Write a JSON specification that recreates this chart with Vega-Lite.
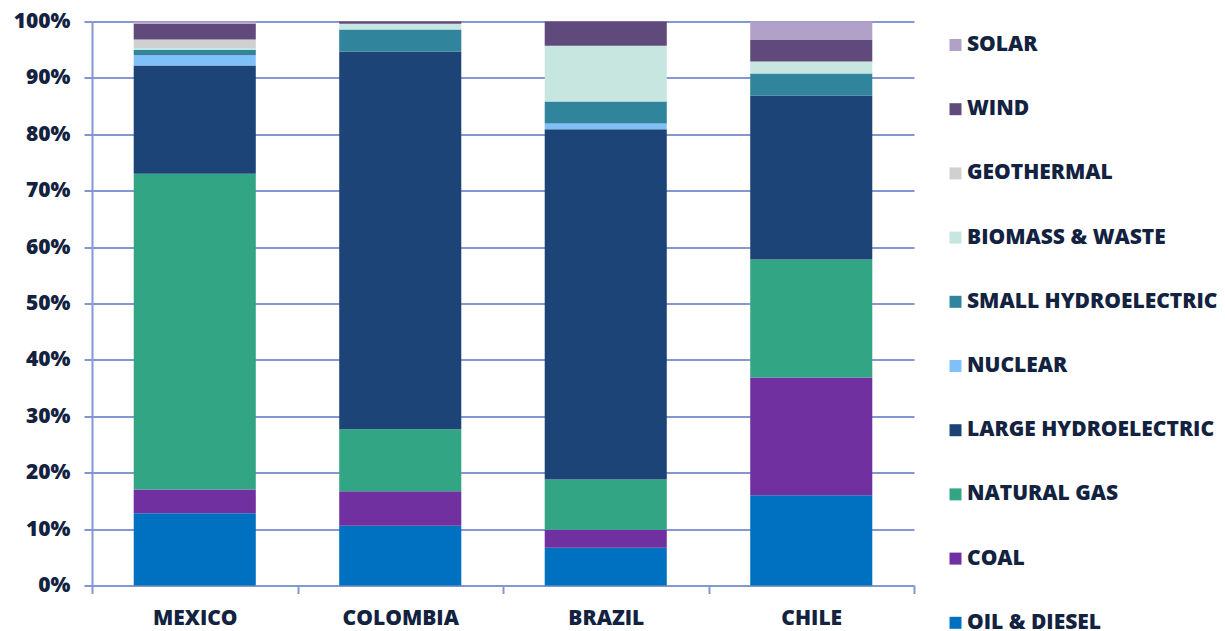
{
  "$schema": "https://vega.github.io/schema/vega-lite/v6.json",
  "autosize": {"type": "none"},
  "width": 822,
  "height": 564,
  "padding": {"left": 92, "top": 21.5, "right": 311, "bottom": 45.5},
  "background": "white",
  "config": {
    "font": "Open Sans",
    "view": {"stroke": null},
    "axis": {
      "labelFont": "Open Sans",
      "labelFontWeight": 800,
      "labelFontSize": 21,
      "labelColor": "#12223f",
      "domainColor": "#8497d1",
      "domainWidth": 2,
      "tickColor": "#8497d1",
      "tickWidth": 2,
      "gridColor": "#8497d1",
      "gridWidth": 2,
      "gridOpacity": 1
    },
    "legend": {
      "labelFont": "Open Sans",
      "labelFontWeight": 800,
      "labelFontSize": 21,
      "labelColor": "#12223f",
      "labelLimit": 400,
      "padding": 0
    }
  },
  "data": {
    "values": [
      {"country": "MEXICO", "source": "OIL & DIESEL", "layer": 1, "share": 12.8},
      {"country": "MEXICO", "source": "COAL", "layer": 2, "share": 4.2},
      {"country": "MEXICO", "source": "NATURAL GAS", "layer": 3, "share": 56.0},
      {"country": "MEXICO", "source": "LARGE HYDROELECTRIC", "layer": 4, "share": 19.2},
      {"country": "MEXICO", "source": "NUCLEAR", "layer": 5, "share": 1.8},
      {"country": "MEXICO", "source": "SMALL HYDROELECTRIC", "layer": 6, "share": 1.0},
      {"country": "MEXICO", "source": "BIOMASS & WASTE", "layer": 7, "share": 0.3},
      {"country": "MEXICO", "source": "GEOTHERMAL", "layer": 8, "share": 1.5},
      {"country": "MEXICO", "source": "WIND", "layer": 9, "share": 2.8},
      {"country": "MEXICO", "source": "SOLAR", "layer": 10, "share": 0.4},

      {"country": "COLOMBIA", "source": "OIL & DIESEL", "layer": 1, "share": 10.6},
      {"country": "COLOMBIA", "source": "COAL", "layer": 2, "share": 6.1},
      {"country": "COLOMBIA", "source": "NATURAL GAS", "layer": 3, "share": 11.0},
      {"country": "COLOMBIA", "source": "LARGE HYDROELECTRIC", "layer": 4, "share": 67.0},
      {"country": "COLOMBIA", "source": "SMALL HYDROELECTRIC", "layer": 6, "share": 3.9},
      {"country": "COLOMBIA", "source": "BIOMASS & WASTE", "layer": 7, "share": 1.0},
      {"country": "COLOMBIA", "source": "WIND", "layer": 9, "share": 0.4},

      {"country": "BRAZIL", "source": "OIL & DIESEL", "layer": 1, "share": 6.7},
      {"country": "BRAZIL", "source": "COAL", "layer": 2, "share": 3.2},
      {"country": "BRAZIL", "source": "NATURAL GAS", "layer": 3, "share": 8.9},
      {"country": "BRAZIL", "source": "LARGE HYDROELECTRIC", "layer": 4, "share": 62.1},
      {"country": "BRAZIL", "source": "NUCLEAR", "layer": 5, "share": 1.0},
      {"country": "BRAZIL", "source": "SMALL HYDROELECTRIC", "layer": 6, "share": 3.9},
      {"country": "BRAZIL", "source": "BIOMASS & WASTE", "layer": 7, "share": 9.9},
      {"country": "BRAZIL", "source": "WIND", "layer": 9, "share": 4.3},

      {"country": "CHILE", "source": "OIL & DIESEL", "layer": 1, "share": 16.0},
      {"country": "CHILE", "source": "COAL", "layer": 2, "share": 20.9},
      {"country": "CHILE", "source": "NATURAL GAS", "layer": 3, "share": 20.9},
      {"country": "CHILE", "source": "LARGE HYDROELECTRIC", "layer": 4, "share": 29.1},
      {"country": "CHILE", "source": "SMALL HYDROELECTRIC", "layer": 6, "share": 3.9},
      {"country": "CHILE", "source": "BIOMASS & WASTE", "layer": 7, "share": 2.1},
      {"country": "CHILE", "source": "WIND", "layer": 9, "share": 3.9},
      {"country": "CHILE", "source": "SOLAR", "layer": 10, "share": 3.2}
    ]
  },
  "mark": {"type": "bar", "width": {"band": 0.594}},
  "encoding": {
    "x": {
      "field": "country",
      "type": "nominal",
      "sort": ["MEXICO", "COLOMBIA", "BRAZIL", "CHILE"],
      "scale": {"paddingInner": 0, "paddingOuter": 0},
      "axis": {
        "title": null,
        "labelAngle": 0,
        "tickBand": "extent",
        "tickSize": 8,
        "labelPadding": 14,
        "grid": false
      }
    },
    "y": {
      "field": "share",
      "type": "quantitative",
      "stack": "zero",
      "scale": {"domain": [0, 100], "nice": false},
      "axis": {
        "title": null,
        "values": [0, 10, 20, 30, 40, 50, 60, 70, 80, 90, 100],
        "labelExpr": "datum.value + '%'",
        "tickSize": 8,
        "labelPadding": 14,
        "grid": true
      }
    },
    "color": {
      "field": "source",
      "type": "nominal",
      "scale": {
        "domain": ["SOLAR", "WIND", "GEOTHERMAL", "BIOMASS & WASTE", "SMALL HYDROELECTRIC", "NUCLEAR", "LARGE HYDROELECTRIC", "NATURAL GAS", "COAL", "OIL & DIESEL"],
        "range": ["#b1a0c7", "#604a7b", "#cfd0d0", "#c6e6df", "#30849c", "#80c0f8", "#1d4477", "#32a684", "#7030a0", "#0070c0"]
      },
      "legend": {
        "title": null,
        "orient": "none",
        "legendX": 853,
        "legendY": 13,
        "symbolType": "square",
        "symbolSize": 144,
        "symbolStrokeWidth": 0,
        "symbolOffset": 0,
        "labelOffset": 1,
        "rowPadding": 42.2
      }
    },
    "order": {"field": "layer", "type": "quantitative", "sort": "ascending"}
  }
}
